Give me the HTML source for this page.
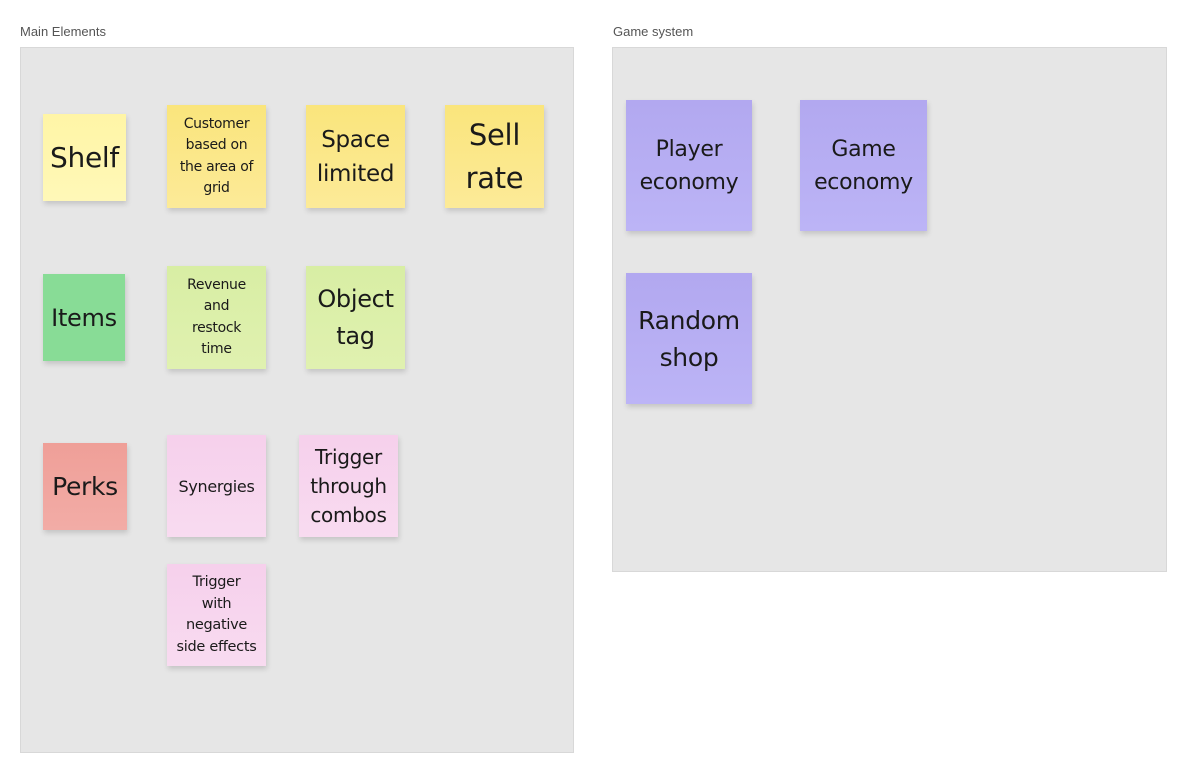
<!DOCTYPE html>
<html><head><meta charset="utf-8"><style>
body{margin:0;width:1180px;height:775px;background:#fff;position:relative;overflow:hidden;font-family:"DejaVu Sans","Liberation Sans",sans-serif;}
.lbl{position:absolute;font-size:13px;color:#555;font-family:"Liberation Sans",sans-serif;}
.fr{position:absolute;background:#e6e6e6;border:1px solid #d8d8d8;box-sizing:border-box;}
.n{position:absolute;display:flex;align-items:center;justify-content:center;text-align:center;color:#1a1a1a;box-shadow:1px 3px 5px rgba(0,0,0,0.15);box-sizing:border-box;letter-spacing:-0.3px;}
.y0{background:linear-gradient(#fff5a6,#fff8b8);}
.y{background:linear-gradient(#fae57c,#fcea98);}
.g{background:#88dc96;}
.lg{background:linear-gradient(#d8eea4,#e0f1b0);}
.r{background:linear-gradient(#ef9f98,#f2aca6);}
.p{background:linear-gradient(#f6d0ec,#f8dbf0);}
.v{background:linear-gradient(#b2a8f0,#bcb4f6);}
</style></head><body>
<div class="lbl" style="left:20px;top:24px">Main Elements</div>
<div class="lbl" style="left:613px;top:24px">Game system</div>
<div class="fr" style="left:20px;top:47px;width:554px;height:706px"></div>
<div class="fr" style="left:612px;top:47px;width:555px;height:525px"></div>

<div class="n y0" style="left:43px;top:114px;width:83px;height:87px;font-size:28px">Shelf</div>
<div class="n y" style="left:167px;top:105px;width:99px;height:103px;font-size:14px;line-height:21.5px">Customer<br>based on<br>the area of<br>grid</div>
<div class="n y" style="left:306px;top:105px;width:99px;height:103px;font-size:23px;line-height:34px">Space<br>limited</div>
<div class="n y" style="left:445px;top:105px;width:99px;height:103px;font-size:29px;line-height:43px">Sell<br>rate</div>

<div class="n g" style="left:43px;top:274px;width:82px;height:87px;font-size:24px">Items</div>
<div class="n lg" style="left:167px;top:266px;width:99px;height:103px;font-size:14px;line-height:21.5px">Revenue<br>and<br>restock<br>time</div>
<div class="n lg" style="left:306px;top:266px;width:99px;height:103px;font-size:24px;line-height:37px">Object<br>tag</div>

<div class="n r" style="left:43px;top:443px;width:84px;height:87px;font-size:25px">Perks</div>
<div class="n p" style="left:167px;top:435px;width:99px;height:102px;font-size:16px">Synergies</div>
<div class="n p" style="left:299px;top:435px;width:99px;height:102px;font-size:20px;line-height:29px">Trigger<br>through<br>combos</div>
<div class="n p" style="left:167px;top:564px;width:99px;height:102px;font-size:14.5px;line-height:21.5px">Trigger<br>with<br>negative<br>side effects</div>

<div class="n v" style="left:626px;top:100px;width:126px;height:131px;font-size:22px;line-height:33px">Player<br>economy</div>
<div class="n v" style="left:800px;top:100px;width:127px;height:131px;font-size:22px;line-height:33px">Game<br>economy</div>
<div class="n v" style="left:626px;top:273px;width:126px;height:131px;font-size:25px;line-height:37px">Random<br>shop</div>
</body></html>
